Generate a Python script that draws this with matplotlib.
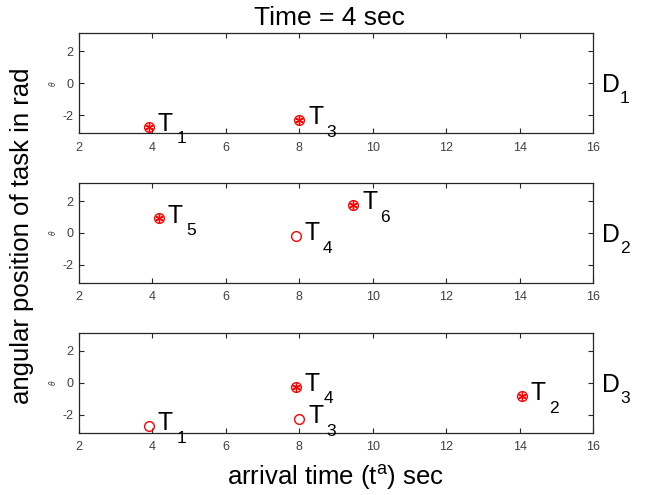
import matplotlib.pyplot as plt
import numpy as np

plt.rcParams['font.family'] = ['Liberation Sans', 'DejaVu Sans']
plt.rcParams['axes.unicode_minus'] = False

# arrival times and angles of the tasks seen by each drone at t = 4 sec
panels = ['1', '2', '3']
task_ids = [['1', '3'],
            ['5', '4', '6'],
            ['4', '3', '1', '2']]
arrival = [[3.9, 8.0],
           [4.18, 7.9, 9.47],
           [7.91, 8.0, 3.91, 14.06]]
theta = [[-2.72, -2.32],
         [0.92, -0.2, 1.75],
         [-0.24, -2.3, -2.73, -0.85]]
assigned = [[True, True],
            [True, False, True],
            [True, False, False, True]]

xticks = [2, 4, 6, 8, 10, 12, 14, 16]
yticks = [-2, 0, 2]

fig = plt.figure(figsize=(6.52, 4.95), dpi=100)
left, width, height = 0.1212, 0.7883, 0.202
bottoms = [0.7307, 0.4283, 0.1259]

for k in range(3):
    ax = fig.add_axes([left, bottoms[k], width, height])
    ax.set_xlim(2, 16)
    ax.set_ylim(-np.pi, np.pi)
    ax.set_xticks(xticks)
    ax.set_yticks(yticks)
    ax.tick_params(direction='in', length=3.5, width=0.8, colors='#262626',
                   labelcolor='#404040', labelsize=9, top=True, right=True)
    ax.tick_params(axis='x', pad=6)
    ax.tick_params(axis='y', pad=4)
    for s in ax.spines.values():
        s.set_color('#262626')
        s.set_linewidth(0.9)
    ax.set_ylabel(r'$\theta$', fontsize=5.5, color='#404040', labelpad=3)

    for tid, x, y, a in zip(task_ids[k], arrival[k], theta[k], assigned[k]):
        ax.plot(x, y, 'o', ms=7, mfc='none', mec='red', mew=1, clip_on=False)
        if a:
            ax.plot(x, y, marker=(6, 2, 0), ms=6, color='red', mew=1, clip_on=False)
        ax.annotate('T', (x, y), xytext=(6.3, -3), textcoords='offset points',
                    fontsize=17.8, va='baseline', ha='left')
        ax.annotate(tid, (x, y), xytext=(19.7, -11.8), textcoords='offset points',
                    fontsize=12.5, va='baseline', ha='left')

    ax.annotate('D', (1, 0.5), xycoords='axes fraction', xytext=(6.5, -6.5),
                textcoords='offset points', fontsize=17.8, va='baseline', ha='left')
    ax.annotate(panels[k], (1, 0.5), xycoords='axes fraction', xytext=(19.5, -14.5),
                textcoords='offset points', fontsize=12.5, va='baseline', ha='left')

fig.text(0.506, 0.9495, 'Time = 4 sec', fontsize=19, ha='center', va='baseline')
fig.text(0.514, 0.0202, r'arrival time (t$^{\mathregular{a}}$) sec', fontsize=18.5,
         ha='center', va='baseline')
fig.text(0.034, 0.523, 'angular position of task in rad', fontsize=18.5,
         rotation=90, ha='center', va='center')

fig.savefig('out.png', dpi=100)
